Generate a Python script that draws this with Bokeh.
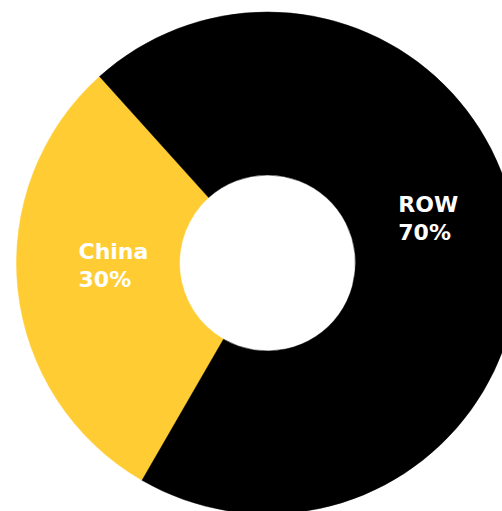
import math
from bokeh.plotting import figure
from bokeh.models import Range1d, ColumnDataSource
from bokeh.core.properties import value
from bokeh.embed import file_html
from bokeh.resources import INLINE

# ---- data ----
categories = ["China", "ROW"]
shares = [30, 70]
colors = ["#FFCD33", "#000000"]

# ---- layout (pixel-like units) ----
W, H = 502, 511
cx, cy = 267, H - 262.5
outer_r, inner_r = 251, 88
start_deg = 132  # China slice starts here, counter-clockwise

total = sum(shares)
starts, ends, mids = [], [], []
a = math.radians(start_deg)
for s in shares:
    span = 2 * math.pi * s / total
    starts.append(a)
    ends.append(a + span)
    mids.append(a + span / 2)
    a += span

src = ColumnDataSource(dict(start=starts, end=ends, color=colors))

p = figure(width=W, height=H, x_range=Range1d(0, W), y_range=Range1d(0, H),
           output_backend="svg", toolbar_location=None, min_border=0)
p.axis.visible = False
p.grid.visible = False
p.outline_line_color = None
p.background_fill_color = "white"
p.border_fill_color = "white"

p.annular_wedge(x=cx, y=cy, inner_radius=inner_r, outer_radius=outer_r,
                start_angle="start", end_angle="end", fill_color="color",
                line_color="color", line_width=0.5, source=src)

# label anchors: polar position with small per-label angle/radius tweaks
label_r = [155, 166]
label_shift_deg = [-5, 9.7]
lx, ly_name, ly_pct, names, pcts = [], [], [], [], []
name_w = [34, 29]  # half width approx of text for left alignment
for i, c in enumerate(categories):
    ang = mids[i] + math.radians(label_shift_deg[i])
    x = cx + label_r[i] * math.cos(ang)
    y = cy + label_r[i] * math.sin(ang)
    lx.append(x - name_w[i])
    ly_name.append(y + 14)
    ly_pct.append(y - 14)
    names.append(c)
    pcts.append(f"{shares[i]}%")

tsrc = ColumnDataSource(dict(x=lx, yn=ly_name, yp=ly_pct, n=names, pc=pcts))
for ycol, tcol in (("yn", "n"), ("yp", "pc")):
    p.text(x="x", y=ycol, text=tcol, source=tsrc, text_color="white",
           text_font=value("DejaVu Sans"), text_font_style="bold",
           text_font_size="22px", text_align="left", text_baseline="alphabetic")

open("out.html", "w").write(file_html(p, INLINE))
